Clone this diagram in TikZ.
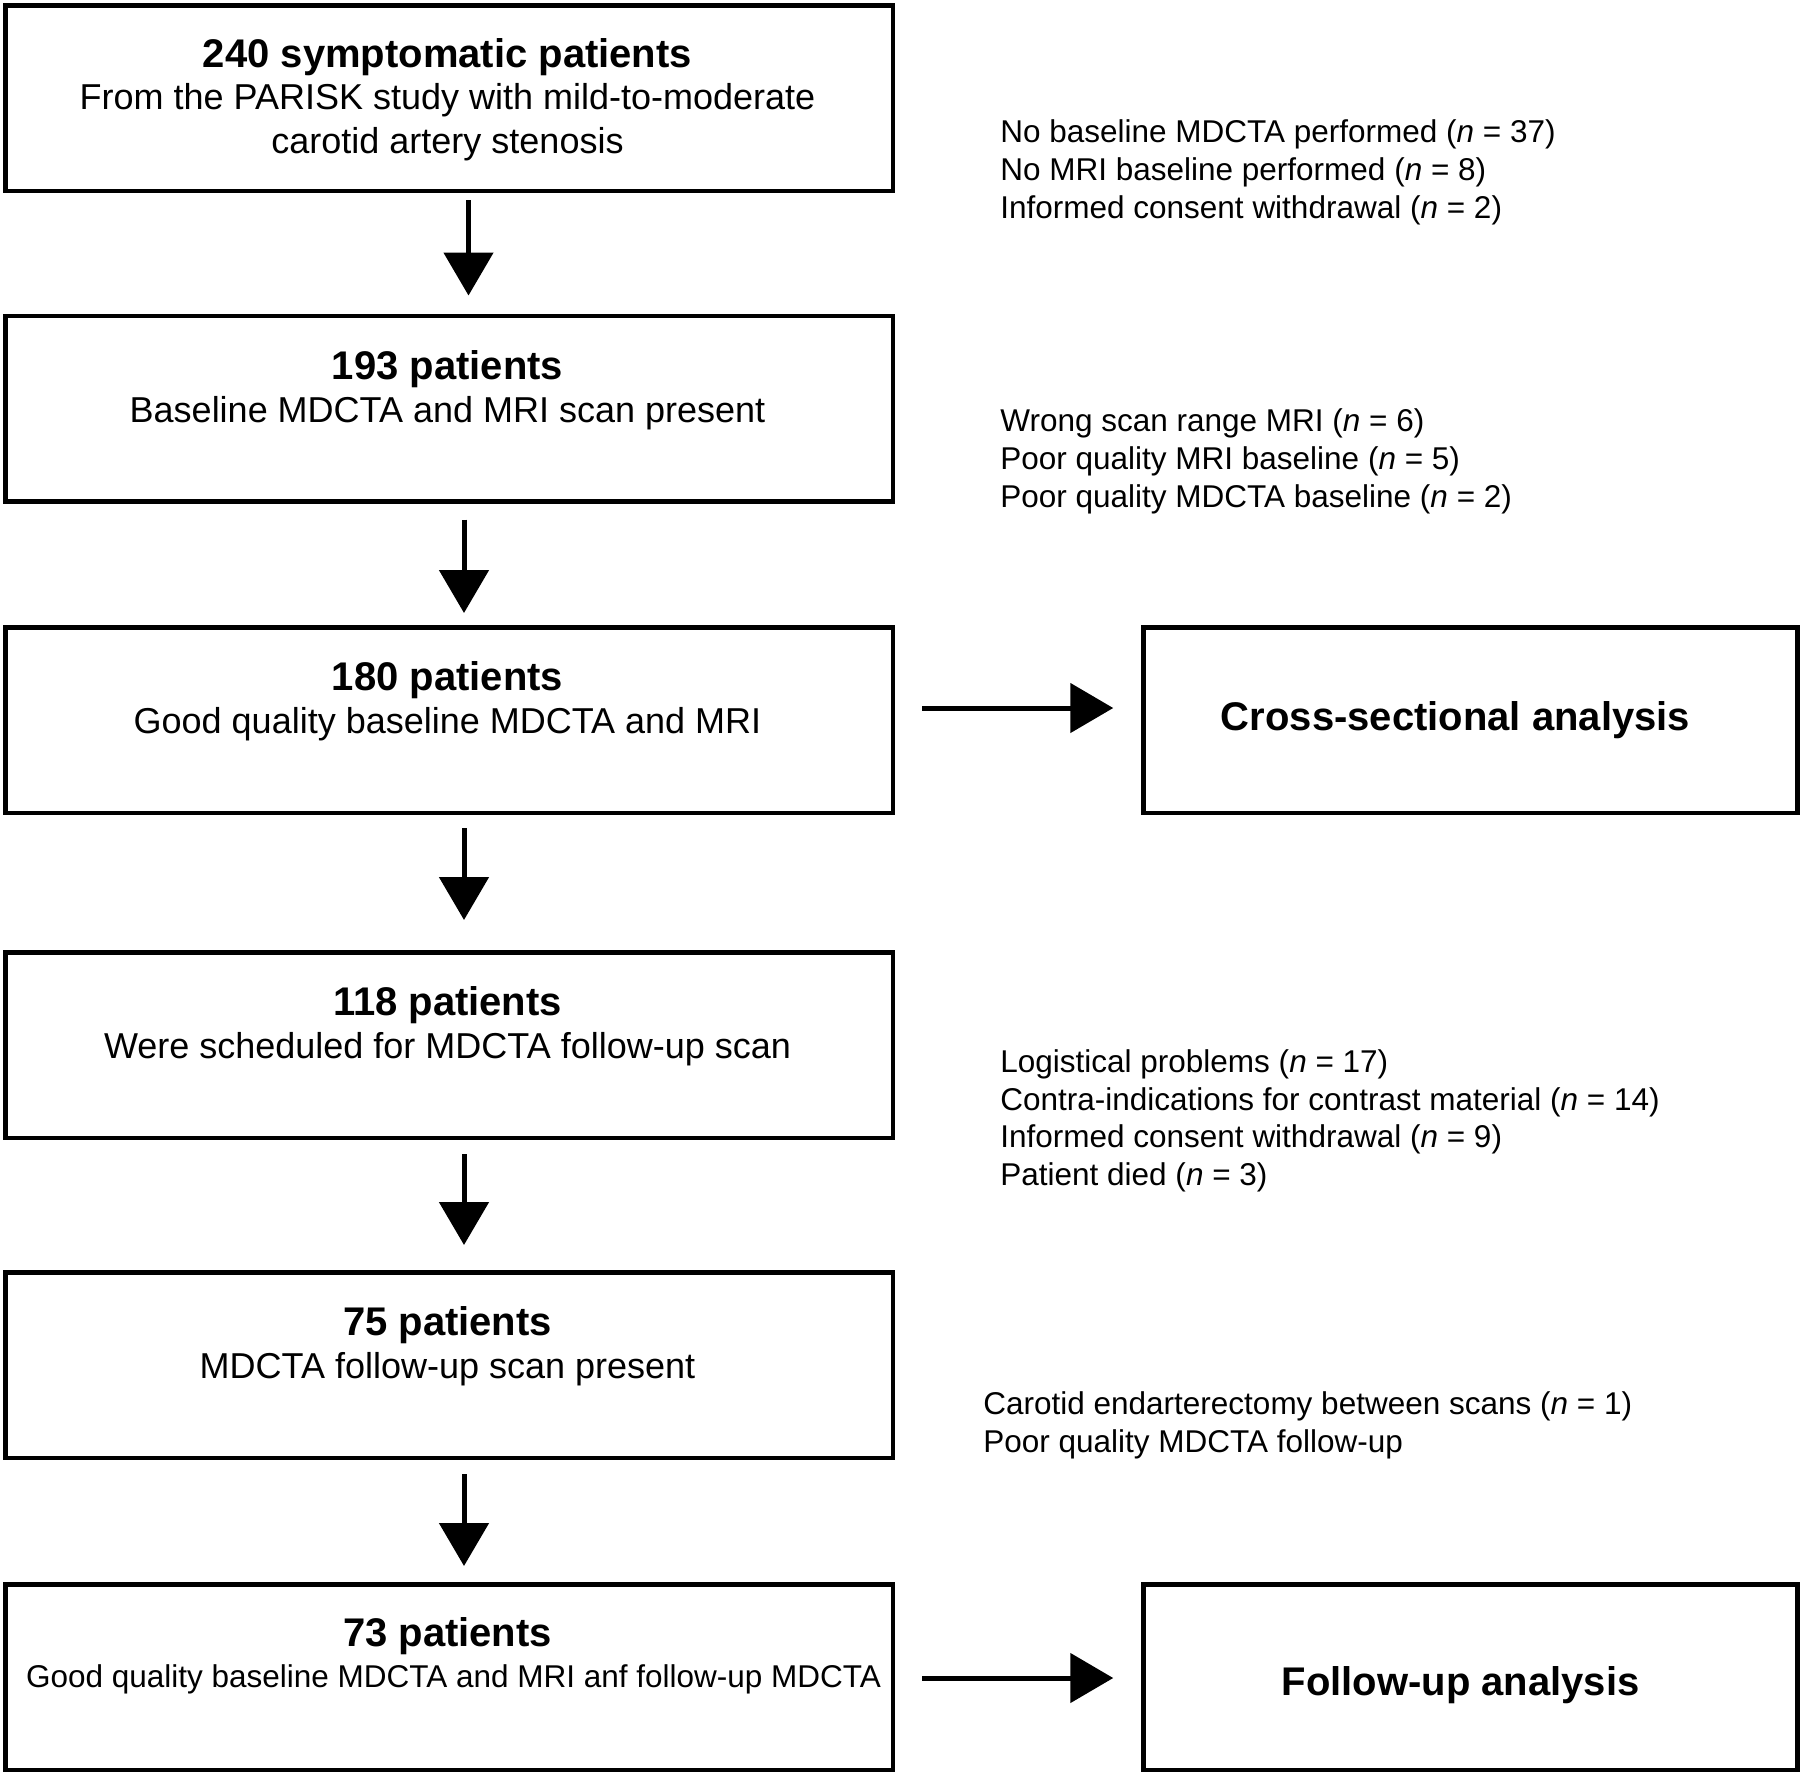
\documentclass[tikz,border=0pt]{standalone}
\usepackage{fontspec}
\setmainfont{Liberation Sans}
\usetikzlibrary{arrows.meta}
\begin{document}
\begin{tikzpicture}[x=0.5pt,y=-0.5pt,
 box/.style={draw, line width=2.25pt, rectangle, inner sep=0pt},
 mainbox/.style={box, minimum width=443.75pt, minimum height=92.75pt},
 sidebox/.style={box, minimum width=327pt, minimum height=92.75pt},
 ttl/.style={inner sep=0pt, anchor=base, font=\fontsize{20pt}{24pt}\selectfont\bfseries},
 sub/.style={inner sep=0pt, anchor=base, font=\fontsize{18pt}{22pt}\selectfont},
 subsmall/.style={inner sep=0pt, anchor=base, font=\fontsize{15.75pt}{19pt}\selectfont},
 note/.style={inner sep=0pt, anchor=base west, font=\fontsize{15.75pt}{19pt}\selectfont},
 sidettl/.style={inner sep=0pt, anchor=center, font=\fontsize{20pt}{24pt}\selectfont\bfseries},
 flow/.style={line width=2.5pt, -{Triangle[length=21.5pt,width=24.5pt]}},
]
\useasboundingbox (0,0) rectangle (1800,1774);
% main boxes
\node[mainbox] (b1) at (449,98) {};
\node[mainbox] (b2) at (449,408.5) {};
\node[mainbox] (b3) at (449,720) {};
\node[mainbox] (b4) at (449,1045) {};
\node[mainbox] (b5) at (449,1365) {};
\node[mainbox] (b6) at (449,1677) {};
% side boxes
\node[sidebox] (c1) at (1470.5,720) {};
\node[sidebox] (c2) at (1470.5,1677) {};
% texts in boxes
\node[ttl] (t1) at (447.5,67) {240 symptomatic patients};
\node[sub] (s1a) at (447.5,109.5) {From the PARISK study with mild-to-moderate};
\node[sub] (s1b) at (447.5,153) {carotid artery stenosis};
\node[ttl] (t2) at (447.5,379) {193 patients};
\node[sub] (s2) at (447.5,422) {Baseline MDCTA and MRI scan present};
\node[ttl] (t3) at (447.5,690.5) {180 patients};
\node[sub] (s3) at (447.5,733.5) {Good quality baseline MDCTA and MRI};
\node[ttl] (t4) at (447.5,1015) {118 patients};
\node[sub] (s4) at (447.5,1058) {Were scheduled for MDCTA follow-up scan};
\node[ttl] (t5) at (447.5,1335) {75 patients};
\node[sub] (s5) at (447.5,1378) {MDCTA follow-up scan present};
\node[ttl] (t6) at (447.5,1646) {73 patients};
\node[subsmall] (s6) at (453.5,1687) {Good quality baseline MDCTA and MRI anf follow-up MDCTA};
\node[sidettl] (u1) at ([xshift=-7.5pt]c1.center) {Cross-sectional analysis};
\node[sidettl] (u2) at ([xshift=-5pt,yshift=-4pt]c2.center) {Follow-up analysis};
% exclusion notes
\node[note] (n1a) at (1000,142) {No baseline MDCTA performed (\textit{n} = 37)};
\node[note] (n1b) at (1000,180) {No MRI baseline performed (\textit{n} = 8)};
\node[note] (n1c) at (1000,218) {Informed consent withdrawal (\textit{n} = 2)};
\node[note] (n2a) at (1000,431) {Wrong scan range MRI (\textit{n} = 6)};
\node[note] (n2b) at (1000,469) {Poor quality MRI baseline (\textit{n} = 5)};
\node[note] (n2c) at (1000,507) {Poor quality MDCTA baseline (\textit{n} = 2)};
\node[note] (n3a) at (1000,1072) {Logistical problems (\textit{n} = 17)};
\node[note] (n3b) at (1000,1110) {Contra-indications for contrast material (\textit{n} = 14)};
\node[note] (n3c) at (1000,1147) {Informed consent withdrawal (\textit{n} = 9)};
\node[note] (n3d) at (1000,1185) {Patient died (\textit{n} = 3)};
\node[note] (n4a) at (983,1414) {Carotid endarterectomy between scans (\textit{n} = 1)};
\node[note] (n4b) at (983,1452) {Poor quality MDCTA follow-up};
% arrows
\draw[flow] ([xshift=9.75pt,yshift=-3.5pt]b1.south) -- ([xshift=9.75pt,yshift=9pt]b2.north);
\draw[flow] ([xshift=7.5pt,yshift=-8pt]b2.south) -- ([xshift=7.5pt,yshift=6pt]b3.north);
\draw[flow] ([xshift=7.5pt,yshift=-6.5pt]b3.south) -- ([xshift=7.5pt,yshift=15pt]b4.north);
\draw[flow] ([xshift=7.5pt,yshift=-7pt]b4.south) -- ([xshift=7.5pt,yshift=12.5pt]b5.north);
\draw[flow] ([xshift=7.5pt,yshift=-7pt]b5.south) -- ([xshift=7.5pt,yshift=8pt]b6.north);
\draw[flow] ([xshift=13.5pt,yshift=6pt]b3.east) -- ([xshift=-14pt,yshift=6pt]c1.west);
\draw[flow] ([xshift=13.5pt,yshift=-0.5pt]b6.east) -- ([xshift=-14pt,yshift=-0.5pt]c2.west);
\end{tikzpicture}
\end{document}
